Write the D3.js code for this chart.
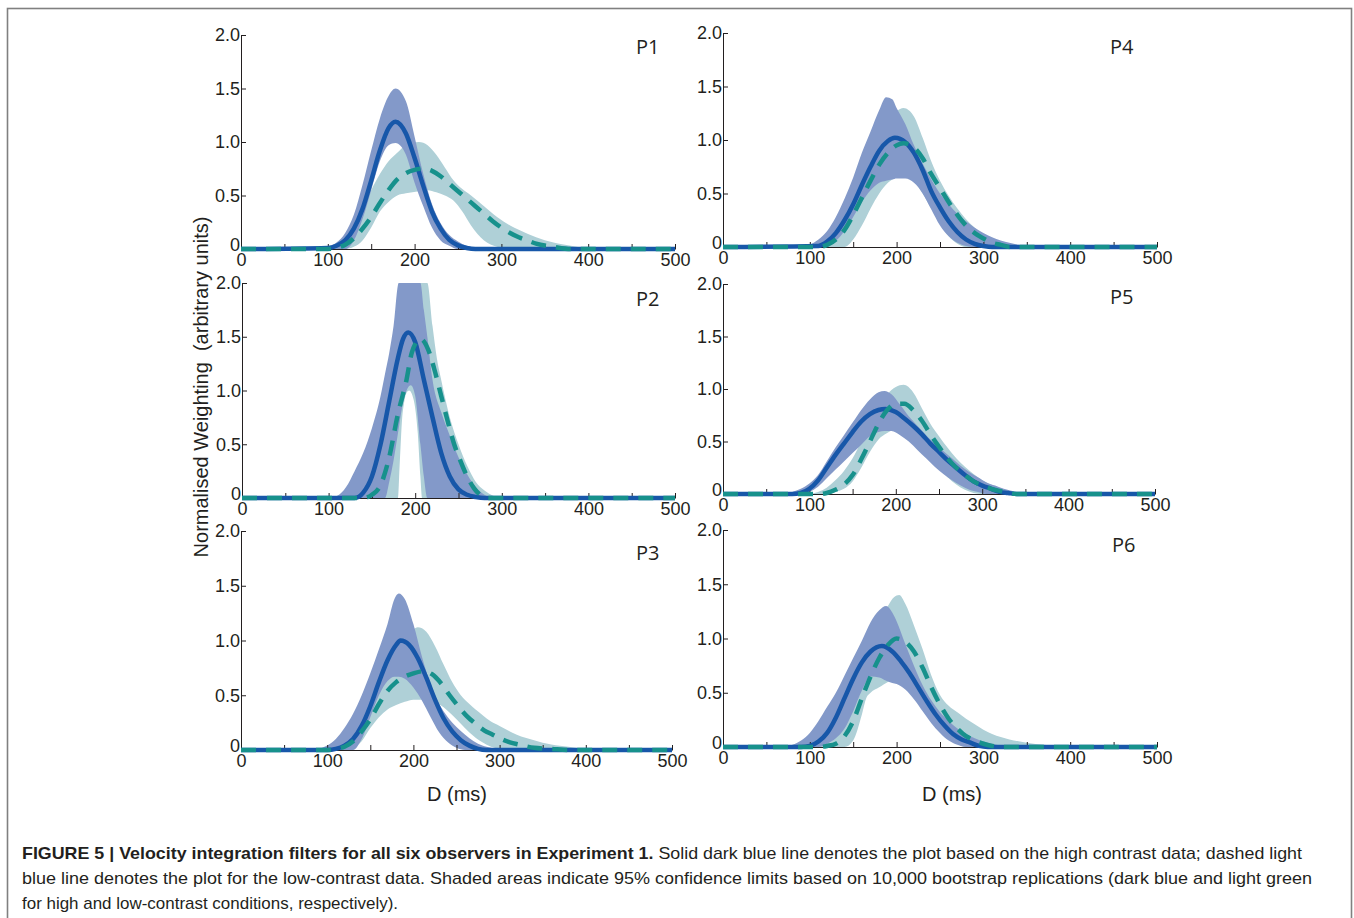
<!DOCTYPE html>
<html>
<head>
<meta charset="utf-8">
<script src="https://cdn.jsdelivr.net/npm/d3@7"></script>
<style>
  html, body { margin: 0; padding: 0; background: #fff; }
  svg { display: block; }
</style>
</head>
<body>
<svg id="fig" width="1354" height="918"></svg>
<script>
// ---- Velocity integration filters, Experiment 1 ----
// Means: [D (ms), weight]; bands: [D (ms), lower 95% limit, upper 95% limit]

// P1
const p1HighMean = [[0,0],[100,0.01],[110,0.03],[120,0.08],[130,0.19],[140,0.375],[150,0.64],[160,0.92],[170,1.13],[178,1.19],[190,1.08],[200,0.85],[210,0.59],[220,0.35],[230,0.19],[240,0.085],[250,0.034],[260,0.01],[270,0],[500,0]];
const p1LowMean = [[0,0],[100,0],[110,0.01],[120,0.04],[130,0.1],[140,0.19],[150,0.3],[160,0.43],[170,0.55],[180,0.65],[190,0.71],[200,0.74],[210,0.75],[220,0.73],[230,0.68],[240,0.61],[250,0.54],[260,0.47],[270,0.4],[280,0.33],[290,0.26],[300,0.2],[310,0.15],[320,0.11],[330,0.08],[340,0.05],[360,0.02],[380,0],[500,0]];
const p1HighBand = [[90,0,0],[100,0,0.02],[110,0,0.06],[120,0,0.15],[130,0.08,0.32],[140,0.28,0.6],[150,0.55,0.92],[160,0.82,1.22],[170,0.97,1.43],[178,0.99,1.5],[190,0.88,1.38],[200,0.62,1.05],[210,0.4,0.7],[220,0.2,0.42],[230,0.08,0.24],[240,0.03,0.13],[250,0,0.07],[260,0,0.03],[270,0,0.01],[280,0,0]];
const p1LowBand = [[100,0,0],[110,0,0.02],[120,0,0.08],[130,0.02,0.2],[140,0.08,0.38],[150,0.2,0.55],[160,0.35,0.7],[170,0.44,0.82],[180,0.5,0.9],[190,0.52,0.97],[205,0.54,1.0],[215,0.55,0.97],[225,0.53,0.88],[235,0.5,0.76],[245,0.45,0.64],[255,0.35,0.56],[265,0.22,0.5],[280,0.08,0.4],[295,0.02,0.3],[310,0,0.22],[320,0,0.18],[340,0,0.11],[360,0,0.06],[380,0,0.03],[400,0,0]];

// P2
const p2HighMean = [[0,0],[130,0],[140,0.05],[150,0.2],[160,0.5],[170,0.9],[180,1.3],[186,1.48],[192,1.54],[200,1.45],[210,1.1],[220,0.75],[230,0.42],[240,0.2],[250,0.08],[260,0.03],[270,0.01],[280,0],[500,0]];
const p2LowMean = [[0,0],[140,0],[150,0.03],[160,0.12],[170,0.38],[180,0.78],[190,1.1],[196,1.35],[206,1.48],[215,1.38],[222,1.2],[230,0.95],[238,0.7],[245,0.5],[252,0.35],[260,0.2],[268,0.09],[275,0.03],[285,0],[500,0]];
const p2HighBand = [[100,0,0],[110,0,0.02],[120,0,0.1],[130,0,0.25],[140,0,0.42],[150,0,0.65],[160,0,0.95],[165,0,1.15],[170,0.15,1.35],[175,0.35,1.6],[181,0.65,2.0],[185,0.85,2.0],[190,1.0,2.0],[195,1.05,2.0],[200,0.95,2.0],[206,0.5,2.0],[210,0.2,1.75],[214,0,1.5],[220,0,1.1],[230,0,0.8],[240,0,0.58],[250,0,0.38],[260,0,0.22],[270,0,0.1],[280,0,0.03],[290,0,0]];
const p2LowBand = [[130,0,0],[140,0,0.05],[150,0,0.2],[160,0,0.5],[170,0,0.95],[180,0,1.6],[182,0.3,1.75],[185,0.75,1.9],[187,0.88,2.0],[190,0.98,2.0],[193,1.0,2.0],[198,0.92,2.0],[203,0.6,2.0],[206,0.2,2.0],[208,0,2.0],[214,0,2.0],[220,0,1.6],[225,0,1.3],[230,0,1.1],[240,0,0.75],[250,0,0.5],[260,0,0.3],[270,0,0.15],[280,0,0.07],[290,0,0.02],[300,0,0]];

// P3
const p3HighMean = [[0,0],[100,0],[110,0.01],[120,0.04],[130,0.1],[140,0.22],[150,0.4],[160,0.62],[170,0.82],[180,0.96],[185,1.0],[195,0.96],[205,0.84],[215,0.66],[225,0.46],[235,0.29],[245,0.17],[255,0.09],[265,0.04],[275,0.01],[285,0],[500,0]];
const p3LowMean = [[0,0],[100,0],[110,0.01],[120,0.03],[130,0.08],[140,0.17],[150,0.28],[160,0.42],[170,0.54],[180,0.62],[190,0.67],[200,0.7],[212,0.72],[222,0.69],[232,0.61],[242,0.5],[252,0.4],[262,0.31],[272,0.24],[282,0.18],[292,0.14],[302,0.1],[312,0.07],[322,0.05],[340,0.02],[360,0.01],[380,0],[500,0]];
const p3HighBand = [[80,0,0],[90,0,0.01],[100,0,0.04],[110,0,0.1],[120,0,0.2],[130,0,0.33],[140,0.1,0.5],[150,0.3,0.7],[160,0.5,0.92],[170,0.63,1.15],[178,0.67,1.38],[183,0.67,1.43],[190,0.65,1.38],[200,0.57,1.15],[210,0.45,0.85],[220,0.3,0.6],[230,0.16,0.42],[240,0.07,0.3],[250,0.02,0.21],[260,0,0.14],[270,0,0.08],[280,0,0.04],[290,0,0.02],[300,0,0]];
const p3LowBand = [[100,0,0],[110,0,0.02],[120,0,0.06],[130,0.02,0.14],[140,0.08,0.26],[150,0.2,0.4],[160,0.3,0.55],[170,0.37,0.67],[180,0.41,0.82],[190,0.44,0.98],[200,0.46,1.1],[205,0.46,1.12],[215,0.46,1.08],[225,0.44,0.95],[235,0.39,0.78],[245,0.32,0.62],[255,0.24,0.5],[265,0.16,0.42],[280,0.07,0.32],[290,0.03,0.26],[300,0.01,0.22],[320,0,0.14],[340,0,0.09],[360,0,0.05],[380,0,0.03],[400,0,0.01],[420,0,0]];

// P4
const p4HighMean = [[0,0],[110,0.01],[120,0.05],[130,0.13],[140,0.25],[150,0.4],[160,0.58],[170,0.75],[180,0.9],[190,0.99],[198,1.02],[210,0.98],[220,0.88],[230,0.72],[240,0.52],[250,0.37],[260,0.24],[270,0.14],[280,0.07],[290,0.03],[300,0.01],[310,0],[500,0]];
const p4LowMean = [[0,0],[110,0],[120,0.02],[130,0.07],[140,0.16],[150,0.3],[160,0.46],[170,0.62],[180,0.77],[190,0.88],[200,0.95],[208,0.97],[220,0.93],[230,0.83],[240,0.68],[250,0.55],[260,0.42],[270,0.3],[280,0.2],[290,0.13],[300,0.08],[310,0.04],[320,0.02],[330,0],[500,0]];
const p4HighBand = [[90,0,0],[100,0,0.02],[110,0,0.07],[120,0.02,0.15],[130,0.06,0.28],[140,0.15,0.45],[150,0.28,0.65],[160,0.42,0.88],[170,0.53,1.08],[180,0.6,1.28],[188,0.62,1.4],[195,0.63,1.38],[200,0.64,1.3],[210,0.64,1.15],[220,0.6,0.95],[230,0.5,0.78],[240,0.35,0.63],[250,0.2,0.5],[260,0.1,0.4],[270,0.04,0.31],[280,0.01,0.24],[290,0,0.18],[300,0,0.13],[310,0,0.09],[320,0,0.06],[330,0,0.04],[340,0,0.02],[360,0,0]];
const p4LowBand = [[110,0,0],[120,0,0.03],[130,0,0.1],[140,0,0.22],[150,0.07,0.4],[160,0.2,0.6],[170,0.36,0.82],[180,0.5,1.02],[190,0.6,1.18],[200,0.65,1.27],[208,0.66,1.3],[220,0.62,1.22],[230,0.5,1.02],[240,0.36,0.8],[250,0.22,0.62],[260,0.1,0.48],[270,0.03,0.36],[280,0,0.26],[290,0,0.18],[300,0,0.12],[310,0,0.07],[320,0,0.04],[330,0,0.02],[345,0,0]];

// P5
const p5HighMean = [[0,0],[80,0],[90,0.01],[100,0.05],[110,0.13],[120,0.25],[130,0.37],[140,0.48],[150,0.59],[160,0.69],[170,0.76],[180,0.8],[188,0.81],[200,0.78],[210,0.72],[220,0.65],[230,0.57],[240,0.48],[250,0.4],[260,0.32],[270,0.25],[280,0.18],[290,0.12],[300,0.08],[310,0.05],[320,0.02],[330,0.01],[340,0],[500,0]];
const p5LowMean = [[0,0],[110,0],[120,0.01],[130,0.04],[140,0.09],[150,0.18],[160,0.33],[170,0.5],[180,0.67],[190,0.8],[200,0.86],[210,0.86],[220,0.8],[230,0.7],[240,0.57],[250,0.45],[260,0.34],[270,0.25],[280,0.18],[290,0.12],[300,0.08],[310,0.05],[320,0.03],[330,0.01],[340,0],[500,0]];
const p5HighBand = [[70,0,0],[80,0,0.02],[90,0,0.05],[100,0.02,0.1],[110,0.07,0.18],[120,0.15,0.31],[130,0.23,0.44],[140,0.31,0.56],[150,0.39,0.68],[160,0.47,0.8],[170,0.55,0.9],[180,0.59,0.97],[187,0.6,0.98],[195,0.6,0.95],[205,0.56,0.85],[215,0.5,0.74],[225,0.42,0.65],[235,0.34,0.56],[245,0.26,0.48],[255,0.19,0.41],[265,0.13,0.34],[275,0.08,0.27],[285,0.04,0.21],[295,0.02,0.16],[305,0,0.11],[315,0,0.08],[325,0,0.05],[340,0,0.02],[360,0,0]];
const p5LowBand = [[100,0,0],[110,0,0.02],[120,0,0.06],[130,0.02,0.13],[140,0.05,0.22],[150,0.12,0.34],[160,0.25,0.5],[170,0.4,0.67],[180,0.52,0.83],[190,0.58,0.95],[200,0.62,1.02],[209,0.62,1.04],[220,0.57,0.97],[230,0.47,0.82],[240,0.36,0.67],[250,0.25,0.55],[260,0.16,0.44],[270,0.09,0.34],[280,0.04,0.26],[290,0.01,0.19],[300,0,0.13],[310,0,0.09],[320,0,0.06],[335,0,0.02],[350,0,0]];

// P6
const p6HighMean = [[0,0],[90,0],[100,0.01],[110,0.05],[120,0.13],[130,0.27],[140,0.45],[150,0.63],[160,0.78],[170,0.88],[183,0.93],[195,0.88],[205,0.79],[215,0.68],[225,0.55],[235,0.42],[245,0.3],[255,0.2],[265,0.12],[275,0.07],[285,0.04],[295,0.01],[305,0],[500,0]];
const p6LowMean = [[0,0],[110,0],[120,0.01],[130,0.03],[140,0.1],[150,0.24],[160,0.45],[170,0.65],[180,0.82],[190,0.94],[200,1.0],[210,0.97],[220,0.88],[230,0.73],[240,0.55],[250,0.39],[260,0.26],[270,0.17],[280,0.1],[290,0.06],[300,0.03],[310,0.01],[320,0],[500,0]];
const p6HighBand = [[70,0,0],[80,0,0.02],[90,0,0.06],[100,0,0.13],[110,0,0.24],[120,0.03,0.37],[130,0.08,0.5],[140,0.17,0.66],[150,0.33,0.82],[160,0.52,0.98],[170,0.65,1.15],[180,0.64,1.26],[188,0.61,1.3],[195,0.59,1.24],[200,0.58,1.16],[210,0.53,0.95],[220,0.44,0.75],[230,0.33,0.57],[240,0.22,0.43],[250,0.13,0.32],[260,0.06,0.24],[270,0.02,0.17],[280,0,0.12],[290,0,0.08],[300,0,0.05],[315,0,0.02],[330,0,0]];
const p6LowBand = [[100,0,0],[110,0,0.02],[120,0,0.06],[130,0,0.14],[140,0,0.27],[150,0.06,0.45],[160,0.3,0.68],[165,0.45,0.8],[170,0.5,0.92],[180,0.55,1.15],[190,0.6,1.3],[197,0.62,1.38],[203,0.62,1.4],[210,0.6,1.32],[220,0.52,1.12],[230,0.4,0.9],[240,0.28,0.66],[250,0.17,0.48],[260,0.08,0.38],[270,0.03,0.32],[280,0,0.26],[290,0,0.21],[300,0,0.16],[310,0,0.12],[330,0,0.07],[350,0,0.04],[370,0,0.02],[390,0,0]];

// Axis ticks
const xTicks = [0, 50, 100, 150, 200, 250, 300, 350, 400, 450, 500];
const xLabelled = [0, 100, 200, 300, 400, 500];
const yTicks = [0, 0.5, 1.0, 1.5, 2.0];

// Caption text
const captionBold = "FIGURE 5 | Velocity integration filters for all six observers in Experiment 1.";
const captionLines = [
  " Solid dark blue line denotes the plot based on the high contrast data; dashed light",
  "blue line denotes the plot for the low-contrast data. Shaded areas indicate 95% confidence limits based on 10,000 bootstrap replications (dark blue and light green",
  "for high and low-contrast conditions, respectively)."
];

// ---- layout & style ----
const panels = [
  { label: "P1", hi: p1HighMean, lo: p1LowMean, hiBand: p1HighBand, loBand: p1LowBand, left: 241, right: 675, base: 249, top: 35,  labX: 636,  labY: 54 },
  { label: "P2", hi: p2HighMean, lo: p2LowMean, hiBand: p2HighBand, loBand: p2LowBand, left: 242, right: 675, base: 498, top: 283, labX: 636,  labY: 306 },
  { label: "P3", hi: p3HighMean, lo: p3LowMean, hiBand: p3HighBand, loBand: p3LowBand, left: 241, right: 672, base: 750, top: 531, labX: 636,  labY: 560 },
  { label: "P4", hi: p4HighMean, lo: p4LowMean, hiBand: p4HighBand, loBand: p4LowBand, left: 723, right: 1157, base: 247, top: 33, labX: 1110, labY: 54 },
  { label: "P5", hi: p5HighMean, lo: p5LowMean, hiBand: p5HighBand, loBand: p5LowBand, left: 723, right: 1155, base: 494, top: 284, labX: 1110, labY: 304 },
  { label: "P6", hi: p6HighMean, lo: p6LowMean, hiBand: p6HighBand, loBand: p6LowBand, left: 723, right: 1157, base: 747, top: 530, labX: 1112, labY: 552 }
];

const colHighBand = "#8399c9";
const colLowBand  = "#afd0d7";
const colHighLine = "#1757a9";
const colLowLine  = "#17918c";
const ink = "#231f20";
const tickFont = "'Liberation Sans', Arial, Helvetica, sans-serif";

const svg = d3.select("#fig");

// outer frame
svg.append("rect")
  .attr("x", 7.5).attr("y", 8.5).attr("width", 1344).attr("height", 940)
  .attr("fill", "none").attr("stroke", "#808080").attr("stroke-width", 1.6);

panels.forEach(p => {
  const x = d3.scaleLinear().domain([0, 500]).range([p.left, p.right]);
  const y = d3.scaleLinear().domain([0, 2]).range([p.base, p.top]);
  const g = svg.append("g");

  const band = d3.area()
    .x(d => x(d[0])).y0(d => y(d[1])).y1(d => y(d[2]))
    .curve(d3.curveMonotoneX);
  const line = d3.line()
    .x(d => x(d[0])).y(d => y(d[1]))
    .curve(d3.curveMonotoneX);

  // confidence bands: low-contrast underneath, high-contrast on top
  g.append("path").attr("d", band(p.loBand)).attr("fill", colLowBand);
  g.append("path").attr("d", band(p.hiBand)).attr("fill", colHighBand);

  // axes with inward ticks
  const xAxis = d3.axisBottom(x)
    .tickValues(xTicks)
    .tickSizeInner(-5).tickSizeOuter(0).tickPadding(4)
    .tickFormat(d => xLabelled.includes(d) ? String(d) : "");
  const gx = g.append("g").attr("transform", `translate(0,${p.base})`).call(xAxis);

  const yAxis = d3.axisLeft(y)
    .tickValues(yTicks)
    .tickSizeInner(-5).tickSizeOuter(0).tickPadding(1)
    .tickFormat(d => d === 0 ? "0" : d3.format(".1f")(d));
  const gy = g.append("g").attr("transform", `translate(${p.left},0)`).call(yAxis);

  [gx, gy].forEach(a => {
    a.attr("font-family", tickFont).attr("font-size", 18);
    a.select(".domain").attr("stroke", ink).attr("stroke-width", 1);
    a.selectAll(".tick line").attr("stroke", ink).attr("stroke-width", 1);
    a.selectAll(".tick text").attr("fill", ink);
  });
  // the y "0" sits a touch higher than its tick, clear of the x "0"
  gy.selectAll(".tick text").filter(d => d === 0).attr("dy", "0.1em");

  // filter estimates: solid high contrast, dashed low contrast on top
  g.append("path").attr("d", line(p.hi))
    .attr("fill", "none").attr("stroke", colHighLine)
    .attr("stroke-width", 4.5).attr("stroke-linejoin", "round");
  g.append("path").attr("d", line(p.lo))
    .attr("fill", "none").attr("stroke", colLowLine)
    .attr("stroke-width", 4.5).attr("stroke-dasharray", "15,10");

  // observer label
  g.append("text")
    .attr("x", p.labX).attr("y", p.labY)
    .attr("font-family", "'Open Sans', 'Noto Sans', sans-serif")
    .attr("font-size", 20).attr("fill", ink)
    .text(p.label);
});

// shared y-axis title
svg.append("text")
  .attr("transform", "translate(208,387) rotate(-90)")
  .attr("text-anchor", "middle")
  .attr("font-family", tickFont).attr("font-size", 20).attr("fill", ink)
  .style("white-space", "pre")
  .text("Normalised Weighting  (arbitrary units)");

// x-axis titles
[457, 952].forEach(cx => {
  svg.append("text")
    .attr("x", cx).attr("y", 801)
    .attr("text-anchor", "middle")
    .attr("font-family", tickFont).attr("font-size", 20).attr("fill", ink)
    .text("D (ms)");
});

// caption
const capFont = "'Liberation Sans Narrow', 'Liberation Sans', Arial, sans-serif";
const capY = [859, 884, 909];
const capLen = [1280, 1290, 376];
captionLines.forEach((txt, i) => {
  const t = svg.append("text")
    .attr("x", 22).attr("y", capY[i])
    .attr("font-family", capFont).attr("font-size", 17).attr("fill", ink)
    .attr("textLength", capLen[i]).attr("lengthAdjust", "spacingAndGlyphs")
    .style("white-space", "pre");
  if (i === 0) {
    t.append("tspan").attr("font-weight", "bold").text(captionBold);
  }
  t.append("tspan").text(txt);
});
</script>
</body>
</html>
